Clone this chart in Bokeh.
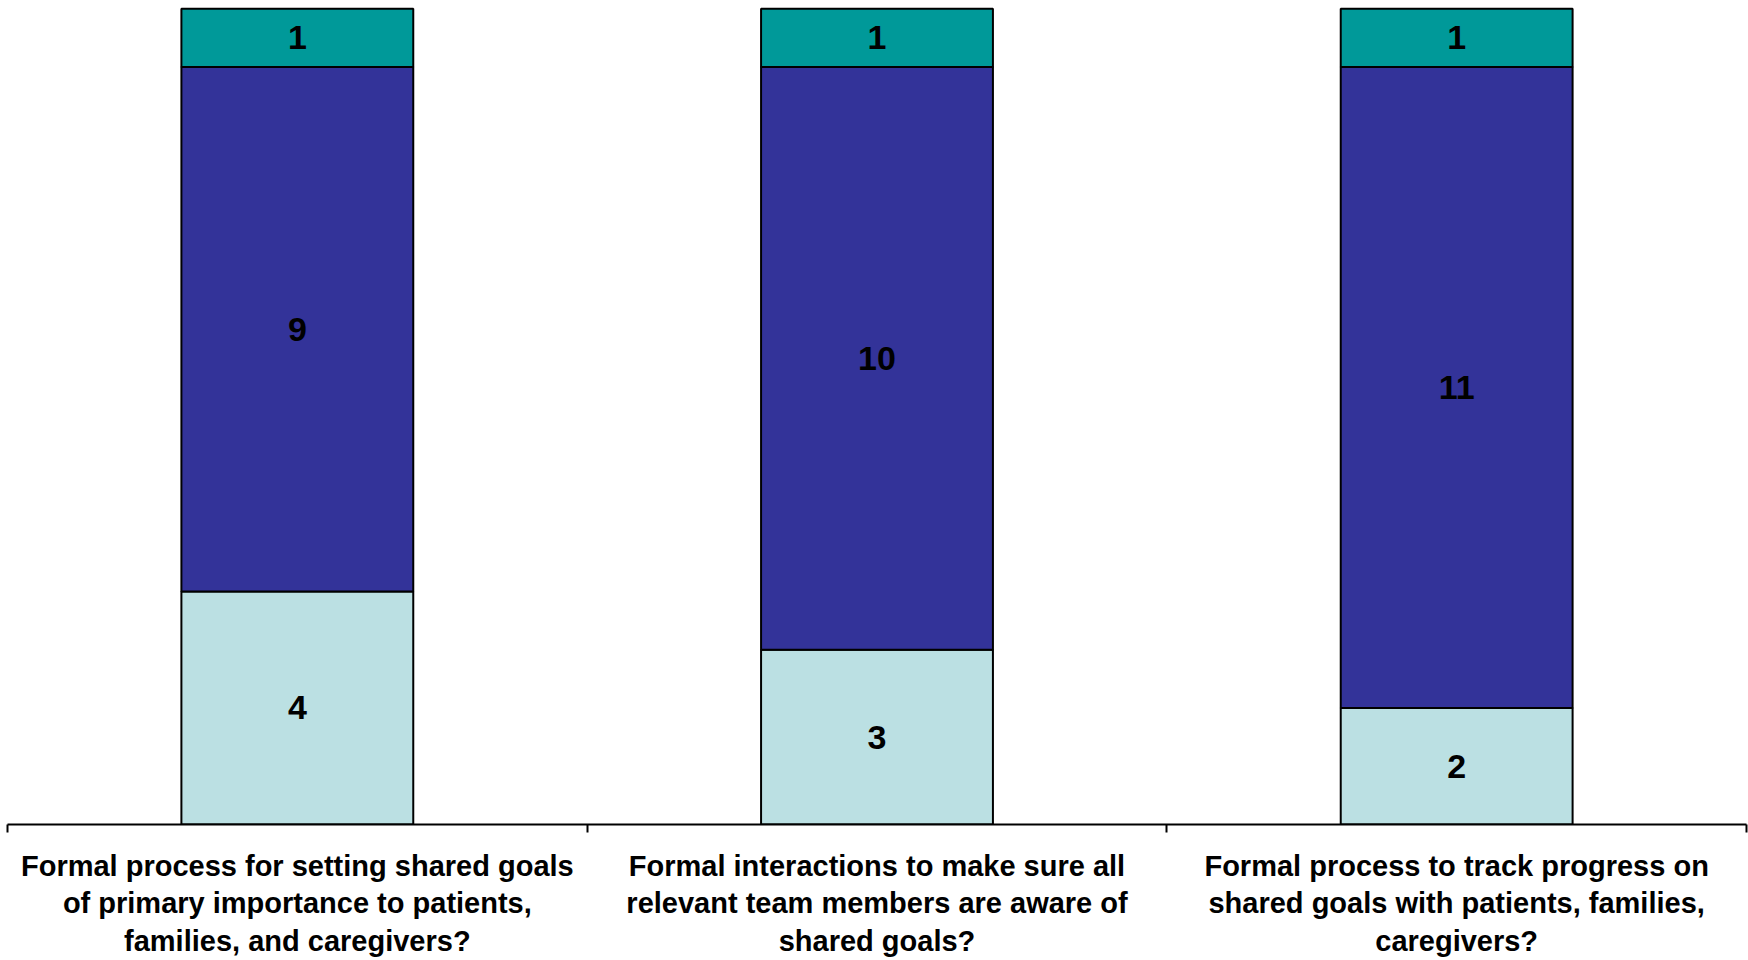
from bokeh.plotting import figure
from bokeh.models import Range1d, FixedTicker, ColumnDataSource
from bokeh.core.properties import value
from bokeh.embed import file_html
from bokeh.resources import INLINE

# Survey questions (x categories) and answer counts per stack level
questions = [
    "Formal process for setting shared goals\nof primary importance to patients,\nfamilies, and caregivers?",
    "Formal interactions to make sure all\nrelevant team members are aware of\nshared goals?",
    "Formal process to track progress on\nshared goals with patients, families,\ncaregivers?",
]
bottom_counts = [4, 3, 2]
middle_counts = [9, 10, 11]
top_counts = [1, 1, 1]

series_names = ["bottom", "middle", "top"]
series_colors = ["#BBE0E3", "#333399", "#009999"]

x_pos = [i + 0.5 for i in range(len(questions))]
source = ColumnDataSource(dict(x=x_pos, bottom=bottom_counts,
                               middle=middle_counts, top=top_counts))

total_max = max(b + m + t for b, m, t in zip(bottom_counts, middle_counts, top_counts))

p = figure(width=1748, height=960, output_backend="svg", toolbar_location=None,
           x_range=Range1d(0, len(questions)), y_range=Range1d(0, total_max * 1.0101),
           min_border_left=7, min_border_right=2, min_border_top=0, min_border_bottom=132,
           y_axis_location=None)
p.outline_line_color = None
p.xgrid.grid_line_color = None
p.ygrid.grid_line_color = None
p.background_fill_color = "white"
p.border_fill_color = "white"

p.vbar_stack(series_names, x="x", width=0.4, color=series_colors, source=source,
             line_color="black", line_width=2)

# value labels centred in each stacked segment
lx, ly, lt = [], [], []
for i, x in enumerate(x_pos):
    base = 0
    for vals in (bottom_counts, middle_counts, top_counts):
        v = vals[i]
        lx.append(x)
        ly.append(base + v / 2)
        lt.append(str(v))
        base += v
p.text(x=lx, y=ly, text=lt, text_align="center", text_baseline="middle",
       text_font=value("Liberation Sans"), text_font_style="bold",
       text_font_size="34px", text_color="black")

ax = p.xaxis[0]
ax.ticker = FixedTicker(ticks=x_pos, minor_ticks=list(range(len(questions) + 1)))
ax.major_label_overrides = {x: q for x, q in zip(x_pos, questions)}
ax.major_tick_out = 0
ax.major_tick_in = 0
ax.minor_tick_out = 8
ax.minor_tick_in = 0
ax.minor_tick_line_width = 2
ax.minor_tick_line_color = "black"
ax.axis_line_width = 2
ax.axis_line_color = "black"
ax.major_label_standoff = 17
ax.major_label_text_font = "Liberation Sans"
ax.major_label_text_font_style = "bold"
ax.major_label_text_font_size = "29px"
ax.major_label_text_line_height = 1.18
ax.major_label_text_color = "black"

open("out.html", "w").write(file_html(p, INLINE))
